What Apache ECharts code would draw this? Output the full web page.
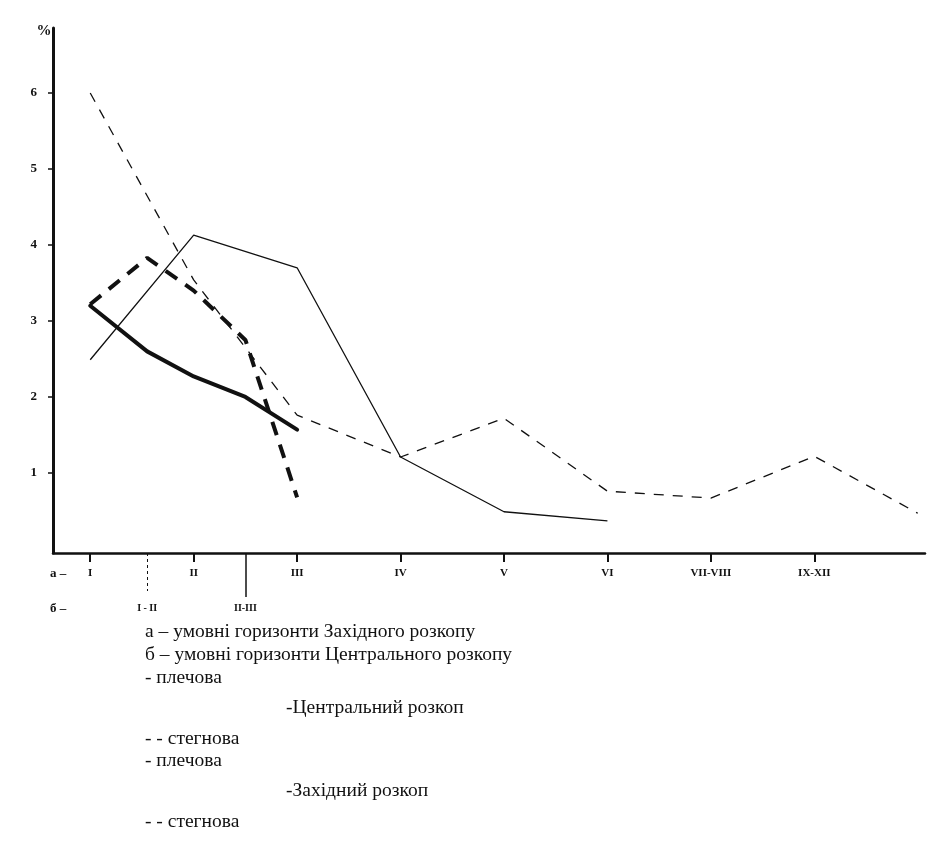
<!DOCTYPE html>
<html>
<head>
<meta charset="utf-8">
<script src="https://cdn.jsdelivr.net/npm/echarts@6/dist/echarts.min.js"></script>
<style>html,body{margin:0;padding:0;background:#fff;}#c{width:930px;height:844px;}</style>
</head>
<body>
<div id="c"></div>
<script>
// Horizon tick labels
const xLabelsA = ['I', 'II', 'III', 'IV', 'V', 'VI', 'VII-VIII', 'IX-XII'];
const xPosA = [0, 1, 2, 3, 4, 5, 6, 7];
const xLabelsB = ['I - II', 'II-III'];
const xPosB = [0.55, 1.5];
const yTicks = [1, 2, 3, 4, 5, 6];

// Central excavation (bold lines)
const centralX = [0, 0.55, 1, 1.5, 2];
const centralShoulder = [3.2, 2.6, 2.27, 2.0, 1.57];
const centralThigh = [3.22, 3.83, 3.4, 2.75, 0.68];

// Western excavation (thin lines)
const westShoulderX = [0, 1, 2, 3, 4, 5];
const westShoulder = [2.49, 4.13, 3.70, 1.21, 0.49, 0.37];
const westThighX = [0, 1, 2, 3, 4, 5, 6, 7, 8];
const westThigh = [6.0, 3.54, 1.76, 1.21, 1.72, 0.76, 0.67, 1.22, 0.47];

const legendLines = [
  'а – умовні горизонти Західного розкопу',
  'б – умовні горизонти Центрального розкопу',
  '- плечова',
  '-Центральний розкоп',
  '- - стегнова',
  '- плечова',
  '-Західний розкоп',
  '- - стегнова'
];

function pairs(xs, ys) { return xs.map((x, i) => [x, ys[i]]); }

const chart = echarts.init(document.getElementById('c'), null, {renderer: 'canvas'});
const ink = '#111';
const serif = "'Liberation Serif', 'DejaVu Serif', serif";

const legendPos = [
  [145, 632], [145, 655], [145, 678], [286, 708],
  [145, 739], [145, 761], [286, 791], [145, 822]
];

const option = {
  backgroundColor: '#fff',
  animation: false,
  grid: {left: 53, right: 5, top: 28, bottom: 291, containLabel: false},
  xAxis: [
    {
      type: 'value', min: -0.36, max: 8.07, position: 'bottom',
      splitLine: {show: false},
      axisLine: {show: true, onZero: false, lineStyle: {color: ink, width: 2.5}},
      axisTick: {show: true, customValues: xPosA, length: 9, lineStyle: {color: ink, width: 2}},
      axisLabel: {
        show: true, customValues: xPosA, margin: 15,
        fontFamily: serif, fontSize: 11, fontWeight: 'bold', color: ink,
        formatter: v => { const i = xPosA.indexOf(v); return i >= 0 ? xLabelsA[i] : ''; }
      }
    },
    {
      type: 'value', min: -0.36, max: 8.07, position: 'bottom',
      splitLine: {show: false},
      axisLine: {show: false, onZero: false},
      axisTick: {show: true, customValues: [1.5], length: 44, lineStyle: {color: ink, width: 1.5}},
      axisLabel: {
        show: true, customValues: xPosB, margin: 50,
        fontFamily: serif, fontSize: 10, fontWeight: 'bold', color: ink,
        formatter: v => { const i = xPosB.indexOf(v); return i >= 0 ? xLabelsB[i] : ''; }
      }
    },
    {
      type: 'value', min: -0.36, max: 8.07, position: 'bottom',
      splitLine: {show: false},
      axisLine: {show: false, onZero: false},
      axisTick: {show: true, customValues: [0.55], length: 38, lineStyle: {color: ink, width: 1, type: [3, 3]}},
      axisLabel: {show: false}
    }
  ],
  yAxis: {
    type: 'value', min: -0.053, max: 6.855,
    splitLine: {show: false},
    axisLine: {show: true, onZero: false, lineStyle: {color: ink, width: 3}},
    axisTick: {show: true, customValues: yTicks, length: 5, lineStyle: {color: ink, width: 1.5}},
    axisLabel: {
      show: true, customValues: yTicks, margin: 16,
      fontFamily: serif, fontSize: 13, fontWeight: 'bold', color: ink
    }
  },
  graphic: [
    {type: 'text', x: 44, y: 31, style: {text: '%', font: 'bold 15px ' + serif, fill: ink, align: 'center', verticalAlign: 'middle'}},
    {type: 'text', x: 50, y: 574, style: {text: 'а –', font: 'bold 13px ' + serif, fill: ink, verticalAlign: 'middle'}},
    {type: 'text', x: 50, y: 609, style: {text: 'б –', font: 'bold 13px ' + serif, fill: ink, verticalAlign: 'middle'}}
  ].concat(legendLines.map((t, i) => ({
    type: 'text', x: legendPos[i][0], y: legendPos[i][1],
    style: {text: t, font: '19.5px ' + serif, fill: ink, verticalAlign: 'middle'}
  }))),
  series: [
    {
      name: 'Західний плечова', type: 'line', xAxisIndex: 0, data: pairs(westShoulderX, westShoulder),
      symbol: 'none', lineStyle: {color: ink, width: 1.3, type: 'solid'}, z: 2
    },
    {
      name: 'Західний стегнова', type: 'line', xAxisIndex: 0, data: pairs(westThighX, westThigh),
      symbol: 'none', lineStyle: {color: ink, width: 1.3, type: [10, 9]}, z: 2
    },
    {
      name: 'Центральний плечова', type: 'line', xAxisIndex: 0, data: pairs(centralX, centralShoulder),
      symbol: 'none', lineStyle: {color: ink, width: 4, type: 'solid', cap: 'round', join: 'round'}, z: 3
    },
    {
      name: 'Центральний стегнова', type: 'line', xAxisIndex: 0, data: pairs(centralX, centralThigh),
      symbol: 'none', lineStyle: {color: ink, width: 4, type: [14, 10]}, z: 3
    }
  ]
};
chart.setOption(option);
</script>
</body>
</html>
